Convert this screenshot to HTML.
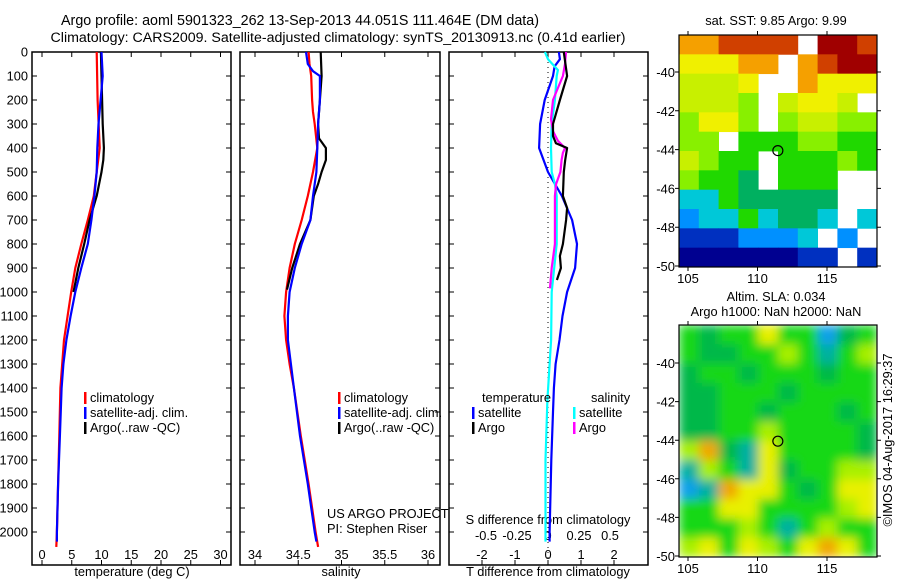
<!DOCTYPE html>
<html><head><meta charset="utf-8">
<style>
html,body{margin:0;padding:0;background:#fff;}
svg{display:block;font-family:"Liberation Sans",sans-serif;}
text{fill:#000;}
</style></head>
<body>
<svg id="fig" width="900" height="580" viewBox="0 0 900 580">
<defs>
<filter id="blur" x="0" y="0" width="1" height="1"><feGaussianBlur stdDeviation="5" edgeMode="duplicate"/></filter>
<clipPath id="slaClip"><rect x="679" y="325" width="198" height="232"/></clipPath>
</defs>
<text x="300" y="25" font-size="14.3" text-anchor="middle">Argo profile: aoml 5901323_262 13-Sep-2013 44.051S 111.464E (DM data)</text>
<text x="338" y="42" font-size="14.2" text-anchor="middle">Climatology: CARS2009. Satellite-adjusted climatology: synTS_20130913.nc (0.41d earlier)</text>
<g id="slaLayer" clip-path="url(#slaClip)"><g id="slaCells" filter="url(#blur)"></g></g>
<g id="g"></g>
</svg>
<script>
// ---------- data ----------
const depthTicks=[0,100,200,300,400,500,600,700,800,900,1000,1100,1200,1300,1400,1500,1600,1700,1800,1900,2000];
const tempTicks=[0,5,10,15,20,25,30];
const salTicks=[34,34.5,35,35.5,36];
const tdiffTicks=[-2,-1,0,1,2];
const sdiffTickLabels=["-0.5","-0.25","0","0.25","0.5"];
const sdiffTicks=[-0.5,-0.25,0,0.25,0.5];

const tClimDepth=[0,200,400,500,600,700,800,900,1000,1100,1200,1400,1600,1800,2000,2062];
const tClimVal=[9.2,9.35,9.7,9.2,8.7,7.7,6.6,5.6,4.9,4.3,3.7,3.1,2.9,2.7,2.5,2.4];
const tSatDepth=[0,100,300,400,500,600,700,800,900,1000,1100,1200,1300,1400,1600,1800,2000,2040];
const tSatVal=[10.0,10.2,9.5,9.3,9.2,8.8,8.3,7.7,6.6,5.6,4.8,4.1,3.6,3.3,3.0,2.7,2.5,2.5];
const tArgoDepth=[0,100,200,300,400,450,500,600,700,800,900,1000];
const tArgoVal=[9.9,10.0,10.1,10.2,10.4,10.3,10.0,9.2,8.0,7.1,6.1,5.3];

const sClimDepth=[0,50,100,200,250,300,400,500,600,700,800,900,1000,1100,1200,1300,1400,1600,1800,2000,2062];
const sClimVal=[34.62,34.63,34.65,34.66,34.67,34.69,34.72,34.67,34.61,34.54,34.46,34.40,34.36,34.34,34.36,34.40,34.45,34.53,34.62,34.70,34.73];
const sSatDepth=[0,50,80,100,200,300,400,500,600,700,800,900,1000,1100,1200,1400,1600,1800,2000,2040];
const sSatVal=[34.59,34.61,34.67,34.75,34.75,34.73,34.72,34.71,34.67,34.64,34.54,34.46,34.40,34.38,34.38,34.45,34.52,34.61,34.69,34.71];
const sArgoDepth=[0,100,200,300,360,400,450,500,550,600,700,800,900,990];
const sArgoVal=[34.76,34.77,34.75,34.73,34.74,34.82,34.82,34.77,34.73,34.68,34.64,34.52,34.43,34.37];

const dtSatDepth=[0,30,60,100,200,300,400,500,600,700,800,900,1000,1100,1200,1300,1400,1500,1700,2000,2040];
const dtSatVal=[0.33,0.36,0.2,0.15,-0.1,-0.24,-0.27,0,0.42,0.73,0.88,0.82,0.58,0.44,0.35,0.23,0.18,0.15,0.1,0.05,0.05];
const dtArgoDepth=[0,100,200,300,350,380,400,450,500,600,650,700,800,850,900,950];
const dtArgoVal=[0.48,0.58,0.36,0.15,0.15,0.24,0.58,0.52,0.48,0.45,0.58,0.55,0.45,0.36,0.39,0.27];
const dsSatDepth=[0,30,75,100,200,300,400,500,550,600,700,800,900,1000,1200,1450,1700,2000,2040];
const dsSatVal=[-0.025,0,0.08,0.07,0.056,0.03,0.024,0.03,0.056,0.07,0.07,0.07,0.05,0.03,0.025,-0.005,-0.02,-0.02,-0.02];
const dsArgoDepth=[0,50,100,150,200,280,330,370,400,420,450,500,550,600,700,800,900,985];
const dsArgoVal=[0.145,0.137,0.12,0.08,0.04,0.024,0.04,0.08,0.137,0.12,0.11,0.1,0.065,0.056,0.056,0.056,0.03,0.016];

// SST map grid (color class, -1 = no data), rows north->south
const sstGrid=[
[2,2,1,1,1,1,-1,0,0,1],
[3,3,3,2,2,-1,2,1,0,0],
[4,4,4,3,-1,-1,2,3,3,3],
[4,4,4,5,-1,4,3,3,4,-1],
[5,3,3,5,-1,5,4,4,5,5],
[5,5,-1,6,6,6,5,5,6,6],
[4,5,6,6,-1,6,6,6,5,6],
[5,6,6,7,-1,6,6,6,-1,-1],
[8,8,6,7,7,7,7,7,-1,-1],
[9,8,8,6,8,7,7,8,-1,8],
[10,10,10,9,9,9,8,-1,9,-1],
[11,11,11,11,11,11,10,10,-1,10]];
const sstColors=["#a00000","#d04000","#f5a000","#f0f000","#c8f000","#88f000","#20d800","#00b060","#00c8d8","#0090ff","#0030c0","#000090"];
// SLA map grid
const slaGrid=[
["g","d","g","g","y","g","g","b","d","g"],
["g","d","d","g","g","l","g","c","g","l"],
["d","g","g","d","g","g","g","d","g","g"],
["d","d","g","g","g","d","g","g","g","g"],
["d","d","g","g","d","g","g","g","d","g"],
["d","d","g","g","l","g","g","g","g","d"],
["l","o","d","c","y","g","g","g","g","d"],
["c","l","g","c","y","d","g","g","l","l"],
["b","c","o","y","y","g","d","g","y","y"],
["g","g","y","y","g","g","g","g","l","y"],
["g","g","g","l","g","c","g","l","g","g"],
["l","y","g","y","l","g","y","o","y","g"]];
const slaColors={g:"#18d818",d:"#00b848",l:"#a8f000",y:"#e8f000",o:"#f0a800",c:"#00b0a0",b:"#10a0e8"};
const argoLon=111.464, argoLat=-44.051;
const mapLonTicks=[105,110,115];
const mapLatTicks=[-40,-42,-44,-46,-48,-50];

// ---------- drawing ----------
const NS="http://www.w3.org/2000/svg";
const G=document.getElementById('g');
function mk(tag,attrs,parent){const e=document.createElementNS(NS,tag);for(const k in attrs)e.setAttribute(k,attrs[k]);(parent||G).appendChild(e);return e;}
const TOP=52,BOT=565;
const yD=d=>TOP+d*0.24;
const P1={l:32,r:231},P2={l:240,r:440},P3={l:449,r:648};
const xT=v=>42+v*5.95;
const xS=v=>255+(v-34)*86.5;
const xDT=v=>548+v*33;
const xDS=v=>548+v*124;

function panel(p,name){
  const r=mk('rect',{x:p.l,y:TOP,width:p.r-p.l,height:BOT-TOP,fill:'none',stroke:'#000','stroke-width':1.5});
  
  
}
panel(P1,'temperature-panel');panel(P2,'salinity-panel');panel(P3,'difference-panel');

depthTicks.forEach(d=>{
  [P1,P2,P3].forEach(p=>{
    const t=mk('path',{d:`M${p.l} ${yD(d)}h5M${p.r} ${yD(d)}h-5`,stroke:'#000','stroke-width':1});
    
    
  });
  const tx=mk('text',{x:28,y:yD(d)+4.5,'font-size':12.8,'text-anchor':'end'});
  tx.textContent=d;
  
  
});
function xticks(vals,fx,p,labels,ly,name){
  vals.forEach((v,i)=>{
    const t=mk('path',{d:`M${fx(v)} ${BOT}v-5M${fx(v)} ${TOP}v5`,stroke:'#000','stroke-width':1});
    
    
    const tx=mk('text',{x:fx(v),y:ly,'font-size':12.8,'text-anchor':'middle'});
    tx.textContent=labels?labels[i]:v;
    
    
  });
}
xticks(tempTicks,xT,P1,null,559,'temperature');
xticks(salTicks,xS,P2,null,559,'salinity');
xticks(tdiffTicks,xDT,P3,null,559,'t-difference');
sdiffTicks.forEach((v,i)=>{
  const tx=mk('text',{x:xDS(v),y:540,'font-size':12.8,'text-anchor':'middle'});
  tx.textContent=sdiffTickLabels[i];
  
  
});
function label(x,y,s,name,anchor,size){const t=mk('text',{x:x,y:y,'font-size':size||12.8,'text-anchor':anchor||'middle'});t.textContent=s;return t;}
label(132,576,'temperature (deg C)','temperature-axis-title');
label(341,576,'salinity','salinity-axis-title');
label(548,576,'T difference from climatology','t-difference-axis-title');
label(548,524,'S difference from climatology','s-difference-axis-title');
label(327,518,'US ARGO PROJECT','project-label','start');
label(327,533,'PI: Stephen Riser','pi-label','start');

const zl=mk('line',{x1:xDT(0),y1:TOP,x2:xDT(0),y2:BOT,stroke:'#000','stroke-width':1,'stroke-dasharray':'1,4'});



function series(depths,vals,fx,color,name){
  const pts=depths.map((d,i)=>fx(vals[i]).toFixed(1)+','+yD(d).toFixed(1)).join(' ');
  const pl=mk('polyline',{points:pts,fill:'none',stroke:color,'stroke-width':2.2,'stroke-linejoin':'round'});
  
  
}
series(tClimDepth,tClimVal,xT,'#ff0000','temperature-climatology-line');
series(tArgoDepth,tArgoVal,xT,'#000000','temperature-argo-line');
series(tSatDepth,tSatVal,xT,'#0000ff','temperature-satellite-line');
series(sClimDepth,sClimVal,xS,'#ff0000','salinity-climatology-line');
series(sArgoDepth,sArgoVal,xS,'#000000','salinity-argo-line');
series(sSatDepth,sSatVal,xS,'#0000ff','salinity-satellite-line');
series(dtSatDepth,dtSatVal,xDT,'#0000ff','t-difference-satellite-line');
series(dsSatDepth,dsSatVal,xDS,'#00ffff','s-difference-satellite-line');
series(dsArgoDepth,dsArgoVal,xDS,'#ff00ff','s-difference-argo-line');
series(dtArgoDepth,dtArgoVal,xDT,'#000000','t-difference-argo-line');

function legendEntry(x,y,color,s,name){
  const b=mk('rect',{x:x,y:y-10,width:2.5,height:12,fill:color});
  
  
  label(x+6,y,s,name,'start');
}
[[P1,84],[P2,338]].forEach(([p,x],k)=>{
  const pre=k?'salinity':'temperature';
  legendEntry(x,402,'#ff0000','climatology',pre+'-legend-climatology');
  legendEntry(x,417,'#0000ff','satellite-adj. clim.',pre+'-legend-satellite');
  legendEntry(x,432,'#000000','Argo(..raw -QC)',pre+'-legend-argo');
});
label(482,402,'temperature','difference-legend-temperature-header','start');
label(591,402,'salinity','difference-legend-salinity-header','start');
legendEntry(472,417,'#0000ff','satellite','difference-legend-t-satellite');
legendEntry(472,432,'#000000','Argo','difference-legend-t-argo');
legendEntry(573,417,'#00ffff','satellite','difference-legend-s-satellite');
legendEntry(573,432,'#ff00ff','Argo','difference-legend-s-argo');

// ---------- maps ----------
function drawMap(M,grid,colorOf,name,cellParent){
  const cw=(M.r-M.l)/10,ch=(M.b-M.t)/12;
  grid.forEach((row,i)=>row.forEach((c,j)=>{
    if(c===-1)return;
    const r=mk('rect',{x:(M.l+j*cw).toFixed(2),y:(M.t+i*ch).toFixed(2),width:(cw+0.4).toFixed(2),height:(ch+0.4).toFixed(2),fill:colorOf(c)},cellParent);
    
    
  }));
  const fr=mk('rect',{x:M.l,y:M.t,width:M.r-M.l,height:M.b-M.t,fill:'none',stroke:'#000','stroke-width':1.2});
  
  
  const lx=v=>688+(v-105)*13.9;
  const ly=v=>M.lat40+(-40-v)*M.dlat;
  mapLonTicks.forEach(v=>{
    const t=mk('path',{d:`M${lx(v)} ${M.t}v-4M${lx(v)} ${M.b}v4`,stroke:'#000'});
    
    
    label(lx(v),M.b+16,String(v),name+'-lon-tick-label','middle',13);
  });
  mapLatTicks.forEach(v=>{
    const t=mk('path',{d:`M${M.l} ${ly(v)}h-4M${M.r} ${ly(v)}h4`,stroke:'#000'});
    
    
    label(M.l-4,ly(v)+5,String(v),name+'-lat-tick-label','end',13);
  });
  const c=mk('circle',{cx:lx(argoLon),cy:ly(argoLat),r:5,fill:'none',stroke:'#000','stroke-width':1.2});
  
  
}
drawMap({l:679,r:877,t:35,b:267,lat40:72,dlat:19.4},sstGrid,c=>sstColors[c],'sst-map');
drawMap({l:679,r:877,t:325,b:557,lat40:363,dlat:19.3},slaGrid,c=>slaColors[c],'sla-map',document.getElementById('slaCells'));
label(776,25,'sat. SST: 9.85 Argo: 9.99','sst-map-title','middle',12.8);
label(776,301,'Altim. SLA: 0.034','sla-map-title-line1','middle',12.8);
label(776,316,'Argo h1000: NaN h2000: NaN','sla-map-title-line2','middle',12.8);
const cr=label(0,0,'\u00A9IMOS 04-Aug-2017 16:29:37','imos-timestamp','middle',12.8);
cr.setAttribute('transform','translate(892,440) rotate(-90)');
</script>
</body></html>
